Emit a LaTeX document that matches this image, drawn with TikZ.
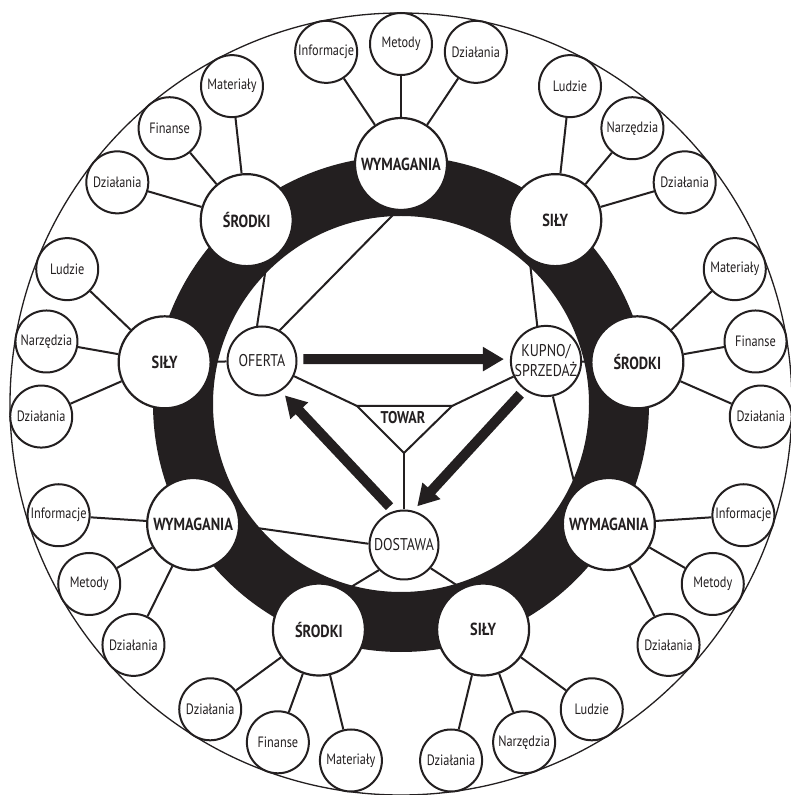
\documentclass[tikz,border=0pt]{standalone}
\usepackage{fontspec}
\setmainfont{PT Sans}[FakeStretch=0.82]
\usepackage{tikz}
\usetikzlibrary{calc,arrows.meta}
\usepackage{xcolor}
\definecolor{ink}{HTML}{231F20}
\definecolor{paper}{HTML}{FFFFFF}
\tikzset{
  rim/.style   = {line width=1.3pt, color=ink},
  band/.style  = {line width=60pt, color=ink},
  link/.style  = {line width=2pt, color=ink},
  flow/.style  = {line width=10pt, color=ink,
                  -{Triangle[length=21pt,width=23pt]},
                  shorten <=6pt, shorten >=6pt},
  hubc/.style  = {circle, draw=ink, fill=paper, line width=2.2pt, minimum size=92pt,
                  inner sep=0pt, text=ink, font=\bfseries\fontsize{17.5}{20}\selectfont},
  leaf/.style  = {circle, draw=ink, fill=paper, line width=2pt, minimum size=62pt,
                  inner sep=0pt, text=ink, font=\fontsize{15}{17}\selectfont},
  core/.style  = {circle, draw=ink, fill=paper, line width=2pt, minimum size=69pt,
                  inner sep=0pt, align=center, text=ink,
                  font=\fontsize{17}{20}\selectfont},
  goods/.style = {inner sep=0pt, text=ink, font=\bfseries\fontsize{17}{20}\selectfont},
}
% one big circle on the band and its three small ones at the rim
% #1 name, #2 angle, #3 label, #4 #5 #6 small labels at angle+12, angle, angle-12
\newcommand{\ringgroup}[6]{%
  \node[hubc] (#1) at ($(hub)+(#2:240)$) {#3};
  \foreach \off/\sfx/\txt in {12/a/{#4},0/b/{#5},-12/c/{#6}}
    {\node[leaf] (#1\sfx) at ($(hub)+({#2+\off}:360)$) {\txt};
     \draw[link] (#1) -- (#1\sfx);}}

\begin{document}
\begin{tikzpicture}[x=1pt, y=1pt]
\fill[paper] (0,0) rectangle (791,795);
\useasboundingbox (0,0) rectangle (791,795);
\coordinate (hub) at (401,391);

% ===================== rim and band ==========================
\draw[rim] (hub) circle[radius=391pt];
\draw[band] (hub) circle[radius=218pt];

% ===================== the nine groups =======================
\ringgroup{wymN}{90}{WYMAGANIA}{Informacje}{Metody}{Działania}
\ringgroup{srodNW}{130}{ŚRODKI}{Działania}{Finanse}{Materiały}
\ringgroup{silNE}{50}{SIŁY}{Ludzie}{Narzędzia}{Działania}
\ringgroup{silW}{170}{SIŁY}{Działania}{Narzędzia}{Ludzie}
\ringgroup{srodE}{10}{ŚRODKI}{Materiały}{Finanse}{Działania}
\ringgroup{wymSW}{210}{WYMAGANIA}{Działania}{Metody}{Informacje}
\ringgroup{wymSE}{330}{WYMAGANIA}{Informacje}{Metody}{Działania}
\ringgroup{srodSSW}{250}{ŚRODKI}{Materiały}{Finanse}{Działania}
\ringgroup{silSSE}{290}{SIŁY}{Ludzie}{Narzędzia}{Działania}

% ===================== the inner cycle =======================
\node[core] (oferta)  at (262,434) {OFERTA};
\node[core] (kupno)   at (546,434) {KUPNO/\\SPRZEDAŻ};
\node[core] (dostawa) at (404,250) {DOSTAWA};

\coordinate (towarL) at (357,389);
\coordinate (towarR) at (452,389);
\coordinate (towarB) at (404,342);
\draw[link, line join=miter] (towarL) -- (towarR) -- (towarB) -- cycle;
\node[goods] (towar) at (403,377) {TOWAR};
\draw[link] (oferta) -- (towarL);
\draw[link] (kupno) -- (towarR);
\draw[link] (towarB) -- (dostawa);

% inner circles to the band
\draw[link] (oferta) -- (silW);
\draw[link] (oferta.98) -- (srodNW.-65);
\draw[link] (oferta.60) -- (wymN.-95);
\draw[link] (kupno) -- (srodE);
\draw[link] (kupno.104) -- (silNE.237);
\draw[link] (kupno.281) -- (wymSE.134);
\draw[link] (dostawa.178) -- (wymSW.358);
\draw[link] (dostawa.225) -- (srodSSW.56);
\draw[link] (dostawa.319) -- (silSSE.118);

% the three thick arrows
\draw[flow] (oferta.3) -- (kupno.177);
\draw[flow] (kupno.233) -- (dostawa.75);
\draw[flow] (dostawa.107) -- (oferta.302);

\end{tikzpicture}
\end{document}
